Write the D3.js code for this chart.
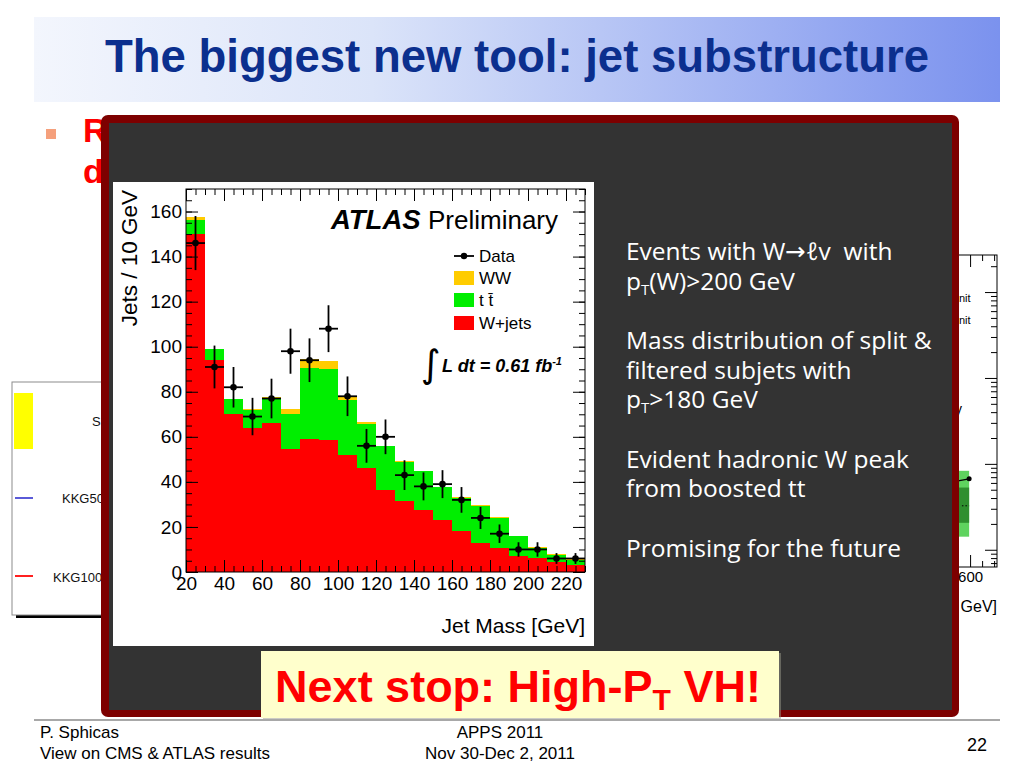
<!DOCTYPE html>
<html>
<head>
<meta charset="utf-8">
<script src="https://cdn.jsdelivr.net/npm/d3@7"></script>
<style>
  body { margin: 0; background: #fff; }
  svg { display: block; }
</style>
</head>
<body>
<div id="slide"></div>
<script>
// ATLAS jet mass histogram (stacked prediction + data)
const massBins = [20, 30, 40, 50, 60, 70, 80, 90, 100, 110, 120, 130, 140, 150, 160, 170, 180, 190, 200, 210, 220];
const wjets = [150, 94, 70, 64, 66, 54.5, 59, 58.5, 52, 46, 36.5, 31.5, 27.5, 23, 18, 13, 10.5, 7, 6, 4.3, 3.2];
const ttbar = [6.3, 5, 6.6, 8, 11.3, 15.5, 31.4, 31.5, 24.3, 19.9, 19.3, 17.4, 17.2, 14.6, 14.9, 16.5, 13.5, 8.8, 4.7, 3.4, 2];
const ww = [1.2, 0.2, 0.2, 0.2, 0.2, 2.5, 4, 3.5, 1.6, 0.7, 0.3, 0.2, 0.2, 0.2, 0.2, 0.2, 0.2, 0.2, 0.2, 0.4, 0.4];
const dataCounts = [146, 91, 82, 69, 77, 98, 94, 108, 78, 56, 60, 43, 38, 39, 32, 24, 17, 10, 10, 6, 6];
const dataErrors = [12, 9.5, 9, 8.3, 8.8, 10, 9.7, 10.4, 8.8, 7.5, 7.7, 6.6, 6.2, 6.2, 5.7, 4.9, 4.1, 3.2, 3.2, 2.4, 2.4];
const xTickValues = [20, 40, 60, 80, 100, 120, 140, 160, 180, 200, 220];
const yTickValues = [0, 20, 40, 60, 80, 100, 120, 140, 160];
const legendLabels = ['Data', 'WW', 't t\u0304', 'W+jets'];

// partly hidden plots behind the panel
const bgLegendLabels = ['S', 'KKG50', 'KKG100'];
const bgBandOuter = [1.42, 8.3];
const bgBandInner = [2.06, 5.3];
const bgDataLine = [6.35, 6.7];
const bgDotted = 3.25;

const panelLines = [
  [['Events with W\u2192\u2113v\u00a0 with']],
  [['p'], ['T', 'sub'], ['(W)>200 GeV']],
  null,
  [['Mass distribution of split &']],
  [['filtered subjets with']],
  [['p'], ['T', 'sub'], ['>180 GeV']],
  null,
  [['Evident hadronic W peak']],
  [['from boosted tt']],
  null,
  [['Promising for the future']]
];

const W = 1024, H = 768;
const sans = '"Liberation Sans", Arial, Helvetica, sans-serif';

const svg = d3.select('#slide').append('svg')
  .attr('width', W).attr('height', H);

// ---------- title bar ----------
const grad = svg.append('defs').append('linearGradient')
  .attr('id', 'titleGrad').attr('x1', '0%').attr('x2', '100%');
grad.append('stop').attr('offset', '0%').attr('stop-color', '#f3f6fd');
grad.append('stop').attr('offset', '35%').attr('stop-color', '#dbe4f9');
grad.append('stop').attr('offset', '100%').attr('stop-color', '#7b92ee');

svg.append('rect')
  .attr('x', 34).attr('y', 17).attr('width', 966).attr('height', 85)
  .attr('fill', 'url(#titleGrad)');

svg.append('text')
  .attr('x', 517).attr('y', 72)
  .attr('text-anchor', 'middle')
  .attr('font-family', sans).attr('font-weight', 'bold').attr('font-size', 45.5)
  .attr('fill', '#0b2f8e')
  .text('The biggest new tool: jet substructure');

// ---------- bullet text behind the panel ----------
svg.append('rect').attr('x', 46).attr('y', 129).attr('width', 10).attr('height', 10).attr('fill', '#f5a07c');
svg.append('text').attr('x', 83).attr('y', 142)
  .attr('font-family', sans).attr('font-weight', 'bold').attr('font-size', 34).attr('fill', '#ff0000').text('R');
svg.append('text').attr('x', 83).attr('y', 183)
  .attr('font-family', sans).attr('font-weight', 'bold').attr('font-size', 34).attr('fill', '#ff0000').text('d');

// ---------- left background legend ----------
const bg = svg.append('g');
bg.append('rect').attr('x', 16).attr('y', 614).attr('width', 90).attr('height', 4).attr('fill', '#000');
bg.append('rect').attr('x', 12).attr('y', 382).attr('width', 100).attr('height', 233)
  .attr('fill', '#fff').attr('stroke', '#8c8c8c').attr('stroke-width', 1);
bg.append('rect').attr('x', 14).attr('y', 393).attr('width', 19).attr('height', 56).attr('fill', '#ffff00');
bg.append('line').attr('x1', 15).attr('x2', 33).attr('y1', 498).attr('y2', 498).attr('stroke', '#5a5ad8').attr('stroke-width', 2);
bg.append('line').attr('x1', 15).attr('x2', 33).attr('y1', 576).attr('y2', 576).attr('stroke', '#ff2020').attr('stroke-width', 2);
bg.selectAll('text.bgl').data(bgLegendLabels).join('text')
  .attr('class', 'bgl')
  .attr('x', (d, i) => [92, 62, 53][i])
  .attr('y', (d, i) => [426, 503, 582][i])
  .attr('font-family', sans).attr('font-size', 13).attr('fill', '#111')
  .text(d => d);

// ---------- right background plot fragment ----------
const x2 = d3.scaleLinear().domain([579, 656]).range([960, 997]);
const y2 = d3.scaleLog().domain([0.63, 2700]).range([567, 255]);
const rb = svg.append('g');
rb.append('rect').attr('x', x2(575)).attr('y', y2(bgBandOuter[1]))
  .attr('width', x2(598) - x2(575)).attr('height', y2(bgBandOuter[0]) - y2(bgBandOuter[1]))
  .attr('fill', '#5fd35f');
rb.append('rect').attr('x', x2(575)).attr('y', y2(bgBandInner[1]))
  .attr('width', x2(598) - x2(575)).attr('height', y2(bgBandInner[0]) - y2(bgBandInner[1]))
  .attr('fill', '#2f8f2f');
rb.append('line').attr('x1', x2(575)).attr('x2', x2(598))
  .attr('y1', y2(bgDataLine[0])).attr('y2', y2(bgDataLine[1])).attr('stroke', '#000').attr('stroke-width', 1.3);
rb.append('circle').attr('cx', x2(598)).attr('cy', y2(bgDataLine[1])).attr('r', 2.5).attr('fill', '#000');
rb.append('line').attr('x1', x2(583)).attr('x2', x2(598))
  .attr('y1', y2(bgDotted)).attr('y2', y2(bgDotted)).attr('stroke', '#000').attr('stroke-dasharray', '1.5,2');
rb.append('rect').attr('x', 940).attr('y', 255).attr('width', 57).attr('height', 312)
  .attr('fill', 'none').attr('stroke', '#000');
const logMajor = [1, 10, 100, 1000];
const logMinor = [];
[0.1, 1, 10, 100, 1000].forEach(d => { for (let k = 2; k <= 9; k++) if (d * k > 0.63 && d * k < 2700) logMinor.push(d * k); });
rb.append('g').attr('transform', 'translate(997,0)')
  .call(d3.axisRight(y2).tickValues(logMajor).tickSize(-12).tickFormat(''))
  .call(g => g.select('.domain').remove());
rb.append('g').attr('transform', 'translate(997,0)')
  .call(d3.axisRight(y2).tickValues(logMinor).tickSize(-6).tickFormat(''))
  .call(g => g.select('.domain').remove());
rb.append('g').attr('transform', 'translate(0,255)')
  .call(d3.axisTop(x2).tickValues([600]).tickSize(-12).tickFormat(''))
  .call(g => g.select('.domain').remove());
rb.append('g').attr('transform', 'translate(0,255)')
  .call(d3.axisTop(x2).tickValues([625, 650]).tickSize(-6).tickFormat(''))
  .call(g => g.select('.domain').remove());
rb.append('g').attr('transform', 'translate(0,567)')
  .call(d3.axisBottom(x2).tickValues([600]).tickSize(-12).tickPadding(4))
  .call(g => g.select('.domain').remove())
  .call(g => g.selectAll('text').attr('font-family', sans).attr('font-size', 15).attr('fill', '#000'));
rb.append('g').attr('transform', 'translate(0,567)')
  .call(d3.axisBottom(x2).tickValues([625, 650]).tickSize(-6).tickFormat(''))
  .call(g => g.select('.domain').remove());
rb.append('text').attr('x', 997).attr('y', 612).attr('text-anchor', 'end')
  .attr('font-family', sans).attr('font-size', 16).attr('fill', '#000').text('GeV]');
rb.append('text').attr('x', 959).attr('y', 302).attr('font-family', sans).attr('font-size', 11).text('nit');
rb.append('text').attr('x', 959).attr('y', 324).attr('font-family', sans).attr('font-size', 11).text('nit');
rb.append('text').attr('x', 955).attr('y', 414).attr('font-family', sans).attr('font-size', 14).text('y');

// ---------- dark panel ----------
svg.append('rect').attr('x', 101).attr('y', 115).attr('width', 858).attr('height', 602)
  .attr('rx', 7).attr('fill', '#7d0000');
svg.append('rect').attr('x', 109).attr('y', 123).attr('width', 843).attr('height', 587)
  .attr('fill', '#333333');

// ---------- histogram ----------
svg.append('rect').attr('x', 113).attr('y', 182).attr('width', 481).attr('height', 464).attr('fill', '#fff');

const x = d3.scaleLinear().domain([20, 230]).range([186, 585]);
const y = d3.scaleLinear().domain([0, 170]).range([572, 189]);

const stackRows = massBins.map((m, i) => ({ m, wjets: wjets[i], ttbar: ttbar[i], ww: ww[i] }));
const series = d3.stack().keys(['wjets', 'ttbar', 'ww'])(stackRows);
const colour = d3.scaleOrdinal().domain(['wjets', 'ttbar', 'ww']).range(['#ff0000', '#00ee00', '#ffcc00']);

const plot = svg.append('g');
plot.selectAll('g.layer').data(series).join('g')
  .attr('class', 'layer')
  .attr('fill', d => colour(d.key))
  .selectAll('rect').data(d => d).join('rect')
  .attr('x', d => x(d.data.m))
  .attr('width', d => x(d.data.m + 10) - x(d.data.m) + 0.3)
  .attr('y', d => y(d[1]))
  .attr('height', d => y(d[0]) - y(d[1]))
  .attr('shape-rendering', 'crispEdges');

// axes with inward ticks
const xMinor = d3.range(20, 231, 5);
const yMinor = d3.range(0, 171, 5);
const axisFont = g => g.attr('font-family', sans).attr('font-size', 19)
  .call(s => s.select('.domain').remove())
  .call(s => s.selectAll('text').attr('fill', '#000'))
  .call(s => s.selectAll('line').attr('stroke', '#000'));

plot.append('g').attr('transform', 'translate(0,572)')
  .call(d3.axisBottom(x).tickValues(xTickValues).tickSize(-12).tickPadding(5)).call(axisFont);
plot.append('g').attr('transform', 'translate(0,572)')
  .call(d3.axisBottom(x).tickValues(xMinor).tickSize(-6).tickFormat('')).call(axisFont);
plot.append('g').attr('transform', 'translate(0,189)')
  .call(d3.axisTop(x).tickValues(xTickValues).tickSize(-12).tickFormat('')).call(axisFont);
plot.append('g').attr('transform', 'translate(0,189)')
  .call(d3.axisTop(x).tickValues(xMinor).tickSize(-6).tickFormat('')).call(axisFont);
plot.append('g').attr('transform', 'translate(186,0)')
  .call(d3.axisLeft(y).tickValues(yTickValues).tickSize(-12).tickPadding(4)).call(axisFont);
plot.append('g').attr('transform', 'translate(186,0)')
  .call(d3.axisLeft(y).tickValues(yMinor).tickSize(-6).tickFormat('')).call(axisFont);
plot.append('g').attr('transform', 'translate(585,0)')
  .call(d3.axisRight(y).tickValues(yTickValues).tickSize(-12).tickFormat('')).call(axisFont);
plot.append('g').attr('transform', 'translate(585,0)')
  .call(d3.axisRight(y).tickValues(yMinor).tickSize(-6).tickFormat('')).call(axisFont);

plot.append('rect').attr('x', 186).attr('y', 189).attr('width', 399).attr('height', 383)
  .attr('fill', 'none').attr('stroke', '#000').attr('stroke-width', 1);

// data points
const pts = plot.append('g').attr('stroke', '#000').attr('stroke-width', 1.8);
pts.selectAll('line.v').data(dataCounts).join('line').attr('class', 'v')
  .attr('x1', (d, i) => x(massBins[i] + 5)).attr('x2', (d, i) => x(massBins[i] + 5))
  .attr('y1', (d, i) => y(d - dataErrors[i])).attr('y2', (d, i) => y(d + dataErrors[i]));
pts.selectAll('line.h').data(dataCounts).join('line').attr('class', 'h')
  .attr('x1', (d, i) => x(massBins[i])).attr('x2', (d, i) => x(massBins[i] + 10))
  .attr('y1', d => y(d)).attr('y2', d => y(d));
pts.selectAll('circle').data(dataCounts).join('circle')
  .attr('cx', (d, i) => x(massBins[i] + 5)).attr('cy', d => y(d)).attr('r', 3.3)
  .attr('fill', '#000').attr('stroke', 'none');

// axis titles
plot.append('text').attr('x', 585).attr('y', 633).attr('text-anchor', 'end')
  .attr('font-family', sans).attr('font-size', 21).attr('fill', '#000').text('Jet Mass [GeV]');
plot.append('text').attr('transform', 'translate(137,190) rotate(-90)').attr('text-anchor', 'end')
  .attr('font-family', sans).attr('font-size', 22.5).attr('fill', '#000').text('Jets / 10 GeV');

// ATLAS label
plot.append('text').attr('x', 331).attr('y', 229)
  .attr('font-family', sans).attr('font-weight', 'bold').attr('font-style', 'italic').attr('font-size', 27.5)
  .text('ATLAS');
plot.append('text').attr('x', 428).attr('y', 229)
  .attr('font-family', sans).attr('font-size', 26).text('Preliminary');

// legend
const leg = plot.append('g');
const legY = [256, 278, 300, 323];
const legKeys = [null, 'ww', 'ttbar', 'wjets'];
leg.append('line').attr('x1', 454).attr('x2', 474).attr('y1', legY[0]).attr('y2', legY[0])
  .attr('stroke', '#000').attr('stroke-width', 1.8);
leg.append('circle').attr('cx', 464).attr('cy', legY[0]).attr('r', 3.2).attr('fill', '#000');
leg.selectAll('rect').data(legKeys.slice(1)).join('rect')
  .attr('x', 454).attr('y', (d, i) => legY[i + 1] - 7).attr('width', 20).attr('height', 14)
  .attr('fill', d => colour(d));
leg.selectAll('text').data(legendLabels).join('text')
  .attr('x', 479).attr('y', (d, i) => legY[i] + 6)
  .attr('font-family', sans).attr('font-size', 17).attr('fill', '#000')
  .text(d => d);

// luminosity
plot.append('text').attr('x', 421).attr('y', 377)
  .attr('font-family', '"DejaVu Sans", sans-serif').attr('font-size', 38).text('\u222B');
const lumi = plot.append('text').attr('x', 442).attr('y', 372)
  .attr('font-family', sans).attr('font-weight', 'bold').attr('font-style', 'italic').attr('font-size', 18);
lumi.append('tspan').text('L dt = 0.61 fb');
lumi.append('tspan').attr('dy', -7).attr('font-size', 11).text('-1');

// ---------- panel text ----------
const ptext = svg.append('g').attr('font-family', '"Open Sans", "DejaVu Sans", sans-serif')
  .attr('font-size', 24.5).attr('fill', '#ffffff');
let lineY = 260;
panelLines.forEach(line => {
  if (line) {
    const t = ptext.append('text').attr('x', 626).attr('y', lineY);
    line.forEach(([str, kind], j) => {
      const ts = t.append('tspan').text(str);
      if (kind === 'sub') ts.attr('font-size', 15).attr('dy', 5);
      else if (j > 0 && line[j - 1][1] === 'sub') ts.attr('dy', -5);
    });
    lineY += 29.5;
  } else {
    lineY += 30;
  }
});

// ---------- next stop box ----------
svg.append('rect').attr('x', 263).attr('y', 653).attr('width', 518).attr('height', 67).attr('fill', '#9a9a8a').attr('opacity', 0.5);
svg.append('rect').attr('x', 261).attr('y', 651).attr('width', 518).attr('height', 67).attr('fill', '#ffffcc');
const ns = svg.append('text').attr('x', 518).attr('y', 702).attr('text-anchor', 'middle')
  .attr('font-family', sans).attr('font-weight', 'bold').attr('font-size', 45).attr('fill', '#ff0000');
ns.append('tspan').text('Next stop: High-P');
ns.append('tspan').attr('font-size', 30).attr('dy', 8).text('T');
ns.append('tspan').attr('dy', -8).text(' VH!');

// ---------- footer ----------
svg.append('line').attr('x1', 34).attr('x2', 1000).attr('y1', 720).attr('y2', 720)
  .attr('stroke', '#a8a8a8').attr('stroke-width', 2);
const foot = svg.append('g').attr('font-family', sans).attr('font-size', 17).attr('fill', '#000');
foot.append('text').attr('x', 40).attr('y', 738).text('P. Sphicas');
foot.append('text').attr('x', 40).attr('y', 759).text('View on CMS & ATLAS results');
foot.append('text').attr('x', 500).attr('y', 738).attr('text-anchor', 'middle').text('APPS 2011');
foot.append('text').attr('x', 500).attr('y', 759).attr('text-anchor', 'middle').text('Nov 30-Dec 2, 2011');
foot.append('text').attr('x', 987).attr('y', 751).attr('text-anchor', 'end').attr('font-size', 18).text('22');
</script>
</body>
</html>
